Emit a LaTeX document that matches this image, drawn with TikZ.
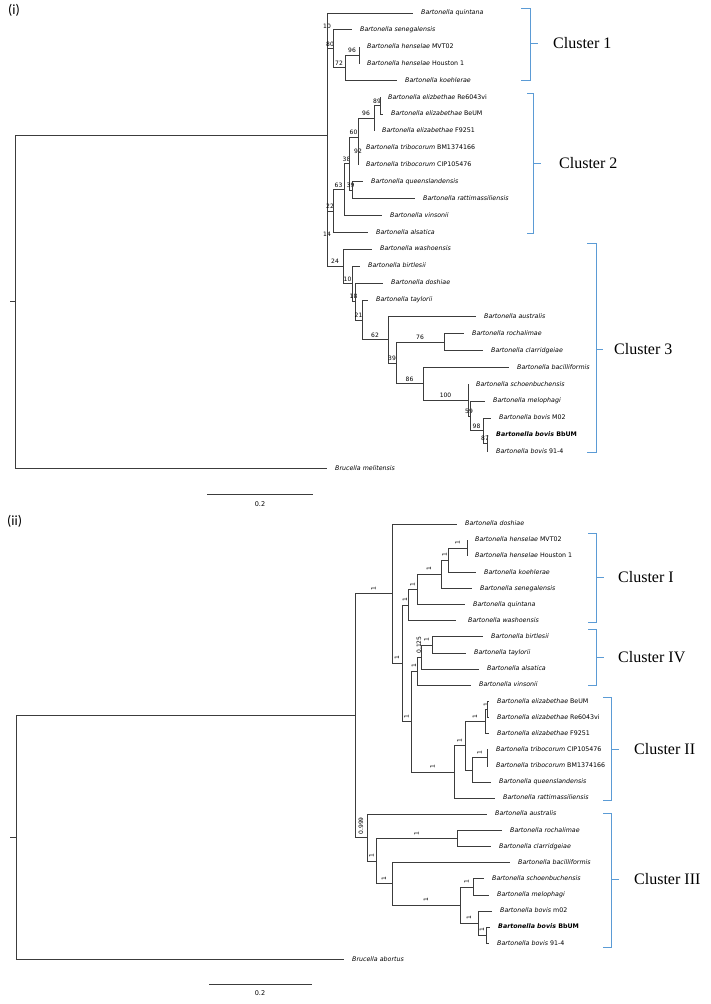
\documentclass[tikz,border=0pt]{standalone}
\usepackage{fontspec}
\setmainfont{Liberation Serif}
\newfontfamily\taxafont{DejaVu Sans}
\newfontfamily\panelfont{Carlito}
\usetikzlibrary{positioning}
\definecolor{treegray}{RGB}{60,60,60}
\definecolor{clusterblue}{RGB}{91,155,213}
\newcommand{\bart}[1]{\textit{Bartonella #1}}
\tikzset
{
    treeline/.style = {draw=treegray, line width=0.9pt},
    branch/.style   = {treeline, to path={|- (\tikztotarget) \tikztonodes}},
    taxon/.style    = {inner sep=0pt, text height=4.7pt, text depth=1.35pt, font=\taxafont\fontsize{6.3}{7}\selectfont},
    boot/.style     = {pos=0.75, anchor=south, yshift=2.2pt, inner sep=0pt, font=\taxafont\fontsize{6}{7}\selectfont},
    post/.style     = {pos=0.75, yshift=3pt, rotate=90, anchor=west, inner sep=0pt, font=\taxafont\fontsize{6}{7}\selectfont},
    bracket/.style  = {draw=clusterblue, line width=0.8pt},
    cluster/.style  = {inner sep=0pt, font=\fontsize{16}{18}\selectfont},
    panel/.style    = {anchor=west, inner sep=0pt, font=\panelfont\fontsize{14}{16}\selectfont},
    barlabel/.style = {inner sep=0pt, font=\taxafont\fontsize{6.5}{7}\selectfont}
}

\begin{document}
\begin{tikzpicture}[x=1pt, y=-1pt]
\useasboundingbox (0,0) rectangle (710,1004);
\fill[white] (0,0) rectangle (710,1004);

%% ---------------- tree (i) ----------------
\node (pi) [panel] at (8,10) {(i)};

% tips
\coordinate (aq)  at (413,13.0);
\coordinate (ase) at (352,29.9);
\coordinate (ahm) at (359,46.8);
\coordinate (ahh) at (359,63.6);
\coordinate (ako) at (397,80.5);
\coordinate (aer) at (380,97.4);
\coordinate (aeb) at (383,114.3);
\coordinate (aef) at (374,131.2);
\coordinate (atb) at (358,148.0);
\coordinate (atc) at (358,164.9);
\coordinate (aqu) at (363,181.8);
\coordinate (ara) at (415,198.7);
\coordinate (avi) at (382,215.6);
\coordinate (aal) at (368,232.4);
\coordinate (awa) at (372,249.3);
\coordinate (abi) at (360,266.2);
\coordinate (ado) at (383,283.1);
\coordinate (ata) at (368,300.0);
\coordinate (aau) at (476,316.8);
\coordinate (aro) at (464,333.7);
\coordinate (acl) at (483,350.6);
\coordinate (aba) at (509,367.5);
\coordinate (asc) at (468,384.4);
\coordinate (ame) at (485,401.2);
\coordinate (abm) at (491,418.1);
\coordinate (abb) at (488,435.0);
\coordinate (ab9) at (488,451.9);
\coordinate (abr) at (327,468.8);

% inner nodes
\coordinate (a96)   at (359,55.2);
\coordinate (a72)   at (345,67.9);
\coordinate (a80)   at (333,48.9);
\coordinate (a10)   at (327,31.0);
\coordinate (a89)   at (380,105.9);
\coordinate (a96b)  at (374,118.5);
\coordinate (a92)   at (358,156.5);
\coordinate (a60)   at (358,137.5);
\coordinate (a39)   at (352,190.3);
\coordinate (a38)   at (349,163.9);
\coordinate (a63)   at (344,189.8);
\coordinate (a22)   at (333,211.1);
\coordinate (a87)   at (487,443.5);
\coordinate (a98)   at (483,430.8);
\coordinate (a59)   at (470,416.0);
\coordinate (a100)  at (468,400.2);
\coordinate (a86)   at (423,383.9);
\coordinate (a76)   at (444,342.2);
\coordinate (a39b)  at (396,363.0);
\coordinate (a62)   at (388,339.9);
\coordinate (a21)   at (362,320.0);
\coordinate (a18)   at (355,301.5);
\coordinate (a10b)  at (352,283.9);
\coordinate (a24)   at (343,266.6);
\coordinate (a14)   at (327,238.9);
\coordinate (ain)   at (327,135.0);
\coordinate (aroot) at (15,301.9);
\coordinate (atick) at (10,301.9);

% taxa
\node (taq)  [taxon, right=8pt of aq]  {\bart{quintana}};
\node (tase) [taxon, right=8pt of ase] {\bart{senegalensis}};
\node (tahm) [taxon, right=8pt of ahm] {\bart{henselae} MVT02};
\node (tahh) [taxon, right=8pt of ahh] {\bart{henselae} Houston 1};
\node (tako) [taxon, right=8pt of ako] {\bart{koehlerae}};
\node (taer) [taxon, right=8pt of aer] {\bart{elizbethae} Re6043vi};
\node (taeb) [taxon, right=8pt of aeb] {\bart{elizabethae} BeUM};
\node (taef) [taxon, right=8pt of aef] {\bart{elizabethae} F9251};
\node (tatb) [taxon, right=8pt of atb] {\bart{tribocorum} BM1374166};
\node (tatc) [taxon, right=8pt of atc] {\bart{tribocorum} CIP105476};
\node (taqu) [taxon, right=8pt of aqu] {\bart{queenslandensis}};
\node (tara) [taxon, right=8pt of ara] {\bart{rattimassiliensis}};
\node (tavi) [taxon, right=8pt of avi] {\bart{vinsonii}};
\node (taal) [taxon, right=8pt of aal] {\bart{alsatica}};
\node (tawa) [taxon, right=8pt of awa] {\bart{washoensis}};
\node (tabi) [taxon, right=8pt of abi] {\bart{birtlesii}};
\node (tado) [taxon, right=8pt of ado] {\bart{doshiae}};
\node (tata) [taxon, right=8pt of ata] {\bart{taylorii}};
\node (taau) [taxon, right=8pt of aau] {\bart{australis}};
\node (taro) [taxon, right=8pt of aro] {\bart{rochalimae}};
\node (tacl) [taxon, right=8pt of acl] {\bart{clarridgeiae}};
\node (taba) [taxon, right=8pt of aba] {\bart{bacilliformis}};
\node (tasc) [taxon, right=8pt of asc] {\bart{schoenbuchensis}};
\node (tame) [taxon, right=8pt of ame] {\bart{melophagi}};
\node (tabm) [taxon, right=8pt of abm] {\bart{bovis} M02};
\node (tabb) [taxon, right=8pt of abb] {\bfseries\bart{bovis} BbUM};
\node (tab9) [taxon, right=8pt of ab9] {\bart{bovis} 91-4};
\node (tabr) [taxon, right=8pt of abr] {\textit{Brucella melitensis}};

% branches
\path
(atick) edge[treeline]                      (aroot)
(aroot) edge[branch]                        (ain)
(aroot) edge[branch]                        (abr)
(ain)   edge[branch] node[boot] (la10)  {10}  (a10)
(ain)   edge[branch] node[boot] (la14)  {14}  (a14)
(a10)   edge[branch]                        (aq)
(a10)   edge[branch] node[boot] (la80)  {80}  (a80)
(a80)   edge[branch]                        (ase)
(a80)   edge[branch] node[boot] (la72)  {72}  (a72)
(a72)   edge[branch] node[boot] (la96)  {96}  (a96)
(a72)   edge[branch]                        (ako)
(a96)   edge[branch]                        (ahm)
(a96)   edge[branch]                        (ahh)
(a14)   edge[branch] node[boot] (la22)  {22}  (a22)
(a14)   edge[branch] node[boot] (la24)  {24}  (a24)
(a22)   edge[branch] node[boot] (la63)  {63}  (a63)
(a22)   edge[branch]                        (aal)
(a63)   edge[branch] node[boot] (la38)  {38}  (a38)
(a63)   edge[branch]                        (avi)
(a38)   edge[branch] node[boot] (la60)  {60}  (a60)
(a38)   edge[branch] node[boot] (la39)  {39}  (a39)
(a60)   edge[branch] node[boot] (la96b) {96}  (a96b)
(a60)   edge[branch] node[boot] (la92)  {92}  (a92)
(a96b)  edge[branch] node[boot] (la89)  {89}  (a89)
(a96b)  edge[branch]                        (aef)
(a89)   edge[branch]                        (aer)
(a89)   edge[branch]                        (aeb)
(a92)   edge[branch]                        (atb)
(a92)   edge[branch]                        (atc)
(a39)   edge[branch]                        (aqu)
(a39)   edge[branch]                        (ara)
(a24)   edge[branch]                        (awa)
(a24)   edge[branch] node[boot] (la10b) {10}  (a10b)
(a10b)  edge[branch]                        (abi)
(a10b)  edge[branch] node[boot] (la18)  {18}  (a18)
(a18)   edge[branch]                        (ado)
(a18)   edge[branch] node[boot] (la21)  {21}  (a21)
(a21)   edge[branch]                        (ata)
(a21)   edge[branch] node[boot] (la62)  {62}  (a62)
(a62)   edge[branch]                        (aau)
(a62)   edge[branch] node[boot] (la39b) {39}  (a39b)
(a39b)  edge[branch] node[boot] (la76)  {76}  (a76)
(a39b)  edge[branch] node[boot] (la86)  {86}  (a86)
(a76)   edge[branch]                        (aro)
(a76)   edge[branch]                        (acl)
(a86)   edge[branch]                        (aba)
(a86)   edge[branch] node[boot] (la100) {100} (a100)
(a100)  edge[branch]                        (asc)
(a100)  edge[branch] node[boot] (la59)  {59}  (a59)
(a59)   edge[branch]                        (ame)
(a59)   edge[branch] node[boot] (la98)  {98}  (a98)
(a98)   edge[branch]                        (abm)
(a98)   edge[branch] node[boot] (la87)  {87}  (a87)
(a87)   edge[branch]                        (abb)
(a87)   edge[branch]                        (ab9);

% clusters
\draw[bracket] (521,8) -- (530,8) -- (530,80) -- (521,80) (530,43) -- (538,43) coordinate (ca1);
\draw[bracket] (527,93) -- (533,93) -- (533,233) -- (527,233) (533,163) -- (541,163) coordinate (ca2);
\draw[bracket] (587,243) -- (596,243) -- (596,452) -- (587,452) (596,349) -- (603,349) coordinate (ca3);
\node (cla1) [cluster, right=15pt of ca1] {Cluster 1};
\node (cla2) [cluster, right=18pt of ca2] {Cluster 2};
\node (cla3) [cluster, right=11pt of ca3] {Cluster 3};

% scale
\coordinate (sa0) at (207,494);
\coordinate (sa1) at (313,494);
\path (sa0) edge[treeline] (sa1);
\node (sla) [barlabel] at (260,504) {0.2};

%% ---------------- tree (ii) ----------------
\node (pii) [panel] at (7,521) {(ii)};

% tips
\coordinate (bdo) at (457,524.0);
\coordinate (bhm) at (467,540.1);
\coordinate (bhh) at (467,556.3);
\coordinate (bko) at (476,572.4);
\coordinate (bse) at (472,588.5);
\coordinate (bqn) at (465,604.7);
\coordinate (bwa) at (456,620.8);
\coordinate (bbi) at (483,636.9);
\coordinate (bta) at (466,653.0);
\coordinate (bal) at (479,669.2);
\coordinate (bvi) at (471,685.3);
\coordinate (beb) at (489,701.4);
\coordinate (ber) at (489,717.6);
\coordinate (bef) at (489,733.7);
\coordinate (btc) at (488,749.8);
\coordinate (btb) at (488,766.0);
\coordinate (bqu) at (491,782.1);
\coordinate (bra) at (495,798.2);
\coordinate (bau) at (487,814.3);
\coordinate (bro) at (502,830.5);
\coordinate (bcl) at (491,846.6);
\coordinate (bba) at (510,862.7);
\coordinate (bsc) at (484,878.9);
\coordinate (bme) at (489,895.0);
\coordinate (bbm) at (492,911.1);
\coordinate (bbb) at (490,927.3);
\coordinate (bb9) at (489,943.4);
\coordinate (bab) at (344,959.5);

% inner nodes
\coordinate (bK)    at (467,548.2);
\coordinate (bJ)    at (448,560.3);
\coordinate (bH)    at (441,574.4);
\coordinate (bG)    at (417,589.6);
\coordinate (bE)    at (408,605.2);
\coordinate (bP)    at (432,645.0);
\coordinate (bQ)    at (421,657.1);
\coordinate (bR)    at (417,671.2);
\coordinate (bW)    at (487,709.5);
\coordinate (bU)    at (485,721.6);
\coordinate (bX)    at (487,757.9);
\coordinate (bY)    at (472,770.0);
\coordinate (bT)    at (465,745.8);
\coordinate (bS)    at (454,772.0);
\coordinate (bF)    at (411,721.6);
\coordinate (bD)    at (402,663.4);
\coordinate (bB)    at (392,593.7);
\coordinate (bFF)   at (486,935.3);
\coordinate (bEE)   at (478,923.2);
\coordinate (bDD)   at (473,887.0);
\coordinate (bCC)   at (460,905.1);
\coordinate (bBB)   at (392,883.9);
\coordinate (bAA)   at (457,838.5);
\coordinate (bZ)    at (376,861.2);
\coordinate (bC)    at (367,837.8);
\coordinate (bA)    at (355,715.7);
\coordinate (broot) at (16,837.6);
\coordinate (btick) at (10,837.6);

% taxa
\node (tbdo) [taxon, right=8pt of bdo] {\bart{doshiae}};
\node (tbhm) [taxon, right=8pt of bhm] {\bart{henselae} MVT02};
\node (tbhh) [taxon, right=8pt of bhh] {\bart{henselae} Houston 1};
\node (tbko) [taxon, right=8pt of bko] {\bart{koehlerae}};
\node (tbse) [taxon, right=8pt of bse] {\bart{senegalensis}};
\node (tbqn) [taxon, right=8pt of bqn] {\bart{quintana}};
\node (tbwa) [taxon, right=12pt of bwa] {\bart{washoensis}};
\node (tbbi) [taxon, right=8pt of bbi] {\bart{birtlesii}};
\node (tbta) [taxon, right=8pt of bta] {\bart{taylorii}};
\node (tbal) [taxon, right=8pt of bal] {\bart{alsatica}};
\node (tbvi) [taxon, right=8pt of bvi] {\bart{vinsonii}};
\node (tbeb) [taxon, right=8pt of beb] {\bart{elizabethae} BeUM};
\node (tber) [taxon, right=8pt of ber] {\bart{elizabethae} Re6043vi};
\node (tbef) [taxon, right=8pt of bef] {\bart{elizabethae} F9251};
\node (tbtc) [taxon, right=8pt of btc] {\bart{tribocorum} CIP105476};
\node (tbtb) [taxon, right=8pt of btb] {\bart{tribocorum} BM1374166};
\node (tbqu) [taxon, right=8pt of bqu] {\bart{queenslandensis}};
\node (tbra) [taxon, right=8pt of bra] {\bart{rattimassiliensis}};
\node (tbau) [taxon, right=8pt of bau] {\bart{australis}};
\node (tbro) [taxon, right=8pt of bro] {\bart{rochalimae}};
\node (tbcl) [taxon, right=8pt of bcl] {\bart{clarridgeiae}};
\node (tbba) [taxon, right=8pt of bba] {\bart{bacilliformis}};
\node (tbsc) [taxon, right=8pt of bsc] {\bart{schoenbuchensis}};
\node (tbme) [taxon, right=8pt of bme] {\bart{melophagi}};
\node (tbbm) [taxon, right=8pt of bbm] {\bart{bovis} m02};
\node (tbbb) [taxon, right=8pt of bbb] {\bfseries\bart{bovis} BbUM};
\node (tbb9) [taxon, right=8pt of bb9] {\bart{bovis} 91-4};
\node (tbab) [taxon, right=8pt of bab] {\textit{Brucella abortus}};

% branches
\path
(btick) edge[treeline]                        (broot)
(broot) edge[branch]                          (bA)
(broot) edge[branch]                          (bab)
(bA)    edge[branch] node[post] (lbB)  {1}     (bB)
(bA)    edge[branch] node[post] (lbC)  {0.999} (bC)
(bB)    edge[branch]                          (bdo)
(bB)    edge[branch] node[post] (lbD)  {1}     (bD)
(bD)    edge[branch] node[post] (lbE)  {1}     (bE)
(bD)    edge[branch] node[post] (lbF)  {1}     (bF)
(bE)    edge[branch] node[post] (lbG)  {1}     (bG)
(bE)    edge[branch]                          (bwa)
(bG)    edge[branch] node[post] (lbH)  {1}     (bH)
(bG)    edge[branch]                          (bqn)
(bH)    edge[branch] node[post] (lbJ)  {1}     (bJ)
(bH)    edge[branch]                          (bse)
(bJ)    edge[branch] node[post] (lbK)  {1}     (bK)
(bJ)    edge[branch]                          (bko)
(bK)    edge[branch]                          (bhm)
(bK)    edge[branch]                          (bhh)
(bF)    edge[branch] node[post] (lbR)  {1}     (bR)
(bF)    edge[branch] node[post] (lbS)  {1}     (bS)
(bR)    edge[branch] node[post] (lbQ)  {0.125} (bQ)
(bR)    edge[branch]                          (bvi)
(bQ)    edge[branch] node[post] (lbP)  {1}     (bP)
(bQ)    edge[branch]                          (bal)
(bP)    edge[branch]                          (bbi)
(bP)    edge[branch]                          (bta)
(bS)    edge[branch] node[post] (lbT)  {1}     (bT)
(bS)    edge[branch]                          (bra)
(bT)    edge[branch] node[post] (lbU)  {1}     (bU)
(bT)    edge[branch]                          (bY)
(bU)    edge[branch] node[post] (lbW)  {1}     (bW)
(bU)    edge[branch]                          (bef)
(bW)    edge[branch]                          (beb)
(bW)    edge[branch]                          (ber)
(bY)    edge[branch] node[post] (lbX)  {1}     (bX)
(bY)    edge[branch]                          (bqu)
(bX)    edge[branch]                          (btc)
(bX)    edge[branch]                          (btb)
(bC)    edge[branch]                          (bau)
(bC)    edge[branch] node[post] (lbZ)  {1}     (bZ)
(bZ)    edge[branch] node[post] (lbAA) {1}     (bAA)
(bZ)    edge[branch] node[post] (lbBB) {1}     (bBB)
(bAA)   edge[branch]                          (bro)
(bAA)   edge[branch]                          (bcl)
(bBB)   edge[branch]                          (bba)
(bBB)   edge[branch] node[post] (lbCC) {1}     (bCC)
(bCC)   edge[branch] node[post] (lbDD) {1}     (bDD)
(bCC)   edge[branch] node[post] (lbEE) {1}     (bEE)
(bDD)   edge[branch]                          (bsc)
(bDD)   edge[branch]                          (bme)
(bEE)   edge[branch]                          (bbm)
(bEE)   edge[branch] node[post] (lbFF) {1}     (bFF)
(bFF)   edge[branch]                          (bbb)
(bFF)   edge[branch]                          (bb9);

% clusters
\draw[bracket] (588,533) -- (596,533) -- (596,622) -- (588,622) (596,577) -- (604,577) coordinate (cb1);
\draw[bracket] (588,629) -- (596,629) -- (596,685) -- (588,685) (596,657) -- (604,657) coordinate (cb4);
\draw[bracket] (603,697) -- (611,697) -- (611,800) -- (603,800) (611,749) -- (619,749) coordinate (cb2);
\draw[bracket] (603,813) -- (611,813) -- (611,947) -- (603,947) (611,879) -- (619,879) coordinate (cb3);
\node (clb1) [cluster, right=14pt of cb1] {Cluster I};
\node (clb4) [cluster, right=14pt of cb4] {Cluster IV};
\node (clb2) [cluster, right=15pt of cb2] {Cluster II};
\node (clb3) [cluster, right=15pt of cb3] {Cluster III};

% scale
\coordinate (sb0) at (209,984);
\coordinate (sb1) at (312,984);
\path (sb0) edge[treeline] (sb1);
\node (slb) [barlabel] at (260,993) {0.2};

\end{tikzpicture}
\end{document}
